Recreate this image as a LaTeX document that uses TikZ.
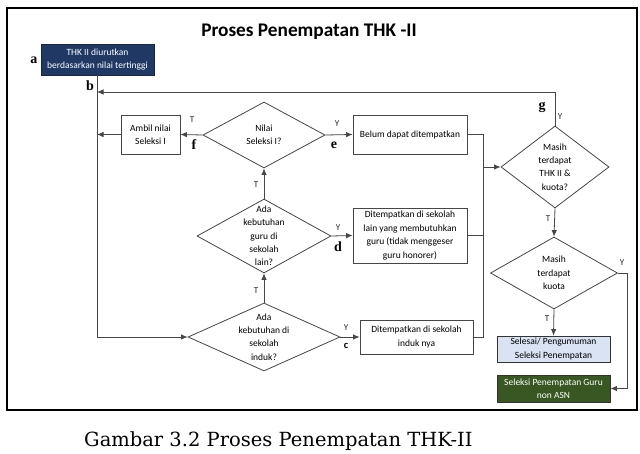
\documentclass[tikz,border=0pt]{standalone}
\usepackage{fontspec}
\usepackage{graphicx}
\usetikzlibrary{shapes.geometric,arrows.meta}
\newfontfamily\carl{Carlito}
\newfontfamily\dvs{DejaVu Serif}
\newfontfamily\lsr{Liberation Serif}
\definecolor{navy}{RGB}{31,56,100}
\definecolor{dgreen}{RGB}{56,87,35}
\definecolor{lblue}{RGB}{218,227,243}
\definecolor{linec}{RGB}{70,70,70}
\begin{document}
\begin{tikzpicture}[x=1pt,y=-1pt,
  lc/.style={draw=linec, line width=0.8pt},
  arr/.style={lc, -{Latex[length=6.5pt,width=5.5pt]}},
  box/.style={draw=linec, line width=0.8pt, fill=white, inner sep=0pt, align=center,
    font=\carl\fontsize{9.5}{13.5}\selectfont},
  dia/.style={diamond, draw=linec, line width=0.8pt, inner sep=0pt},
  dtxt/.style={align=center, inner sep=0pt, font=\carl\fontsize{9.5}{13.3}\selectfont},
  yt/.style={font=\carl\fontsize{9}{10}\selectfont, text=black!85, inner sep=0pt},
  lett/.style={font=\lsr\bfseries\fontsize{14}{14}\selectfont, inner sep=0pt}]
\useasboundingbox (0,0) rectangle (640,454);
\fill[white] (0,0) rectangle (640,454);
% frame
\draw[line width=1.5pt] (7,8) rectangle (637,410);
% title
\node[font=\carl\bfseries\fontsize{19.3}{22}\selectfont, inner sep=0pt] (title) at (309,32) {Proses Penempatan THK -II};
% nodes
\node[box, fill=navy, draw=navy!70!black, text=white, minimum width=113pt, minimum height=31pt] (a) at (97.5,59.5) {THK II diurutkan\\berdasarkan nilai tertinggi};
\node[box, minimum width=59pt, minimum height=39pt] (ambil) at (150.5,134.5) {Ambil nilai\\Seleksi I};
\node[dia, minimum width=122pt, minimum height=66pt] (nilai) at (264,135) {};
\node[dtxt] (nilait) at (nilai.center) {Nilai\\Seleksi I?};
\node[dia, minimum width=134pt, minimum height=74pt] (lain) at (264,236) {};
\node[dtxt] (laint) at (lain.center) {Ada\\kebutuhan\\guru di\\sekolah\\lain?};
\node[dia, minimum width=152pt, minimum height=68pt] (induk) at (264,337) {};
\node[dtxt] (indukt) at (induk.center) {Ada\\kebutuhan di\\sekolah\\induk?};
\node[box, minimum width=114pt, minimum height=39pt] (belum) at (410,134.5) {Belum dapat ditempatkan};
\node[box, minimum width=114pt, minimum height=55pt] (lainbox) at (410,235.5) {Ditempatkan di sekolah\\lain yang membutuhkan\\guru (tidak menggeser\\guru honorer)};
\node[box, minimum width=113pt, minimum height=34pt] (indukbox) at (416.5,337) {Ditempatkan di sekolah\\induk nya};
\node[dia, minimum width=108pt, minimum height=82pt] (g) at (555,167) {};
\node[dtxt] (gt) at (g.center) {Masih\\terdapat\\THK II \&\\kuota?};
\node[dia, minimum width=127pt, minimum height=72pt] (h) at (554,273) {};
\node[dtxt] (ht) at (h.center) {Masih\\terdapat\\kuota};
\node[box, fill=lblue, draw=black!80, minimum width=113pt, minimum height=26pt] (selesai) at (553.5,349) {Selesai/ Pengumuman\\Seleksi Penempatan};
\node[box, fill=dgreen, draw=black!80, text=white, minimum width=113pt, minimum height=27pt] (nonasn) at (553.5,388.5) {Seleksi Penempatan Guru\\non ASN};
% coordinates
\coordinate (bpt) at (97,92);
\coordinate (fpt) at (97,134.5);
\coordinate (jn) at (483,167);
\coordinate (hr) at (627,273);
% connectors
\draw[arr] (a.south) |- (induk.west);
\draw[arr] (g.north) |- (bpt);
\draw[arr] (nilai.west) -- (ambil.east);
\draw[arr] (ambil.west) -- (fpt);
\draw[arr] (lain.north) -- (nilai.south);
\draw[arr] (induk.north) -- (lain.south);
\draw[arr] (nilai.east) -- (belum.west);
\draw[arr] (lain.east) -- (lainbox.west);
\draw[arr] (induk.east) -- (indukbox.west);
\draw[lc] (belum.east) -| (jn);
\draw[lc] (lainbox.east) -| (jn);
\draw[lc] (indukbox.east) -| (jn);
\draw[arr] (jn) -- (g.west);
\draw[arr] (g.south) -- (h.north);
\draw[arr] (h.south) -- (selesai.north);
\draw[arr] (h.east) -- (hr) |- (nonasn.east);
% Y/T labels
\node[yt] (t1) at (192,120) {T};
\node[yt] (t2) at (256,185) {T};
\node[yt] (t3) at (256,291) {T};
\node[yt] (y1) at (337,124) {Y};
\node[yt] (y2) at (338,228) {Y};
\node[yt] (y3) at (346,328) {Y};
\node[yt] (y4) at (560,117) {Y};
\node[yt] (t4) at (548,219) {T};
\node[yt] (y5) at (622,263) {Y};
\node[yt] (t5) at (547,319) {T};
% letters
\node[lett] (la) at (34,60) {a};
\node[lett] (lb) at (90,86) {b};
\node[font=\carl\bfseries\fontsize{10.5}{10.5}\selectfont, inner sep=0pt] (lc) at (346,346) {c};
\node[lett] (ld) at (338,247) {d};
\node[lett] (le) at (334,145) {e};
\node[lett] (lf) at (194,145) {f};
\node[lett] (lg) at (542,107) {g};
% caption
\node[font=\dvs\fontsize{19.5}{22}\selectfont, inner sep=0pt, anchor=west] (cap) at (84,441) {Gambar 3.2 Proses Penempatan THK-II};
\end{tikzpicture}
\end{document}
